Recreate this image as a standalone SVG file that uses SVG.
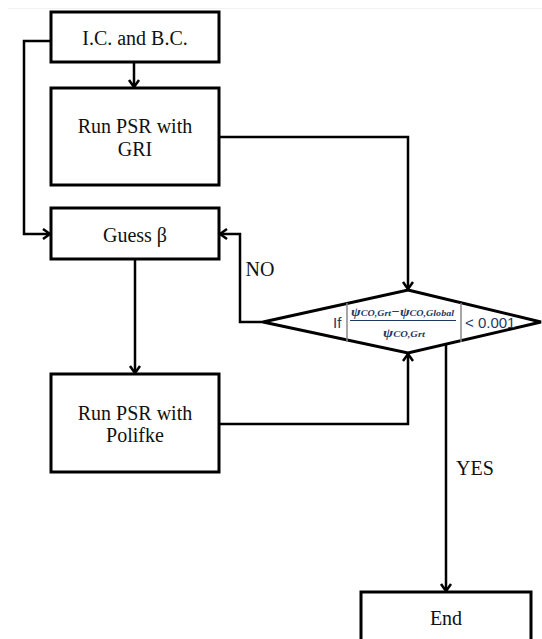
<svg xmlns="http://www.w3.org/2000/svg" width="542" height="639" viewBox="0 0 542 639">
<style>
.box{fill:#fff;stroke:#000;stroke-width:3}
.ln{fill:none;stroke:#000;stroke-width:2.5}
.t{font-family:"Liberation Serif","Times New Roman",serif;font-size:20px;fill:#111;text-anchor:middle}
.f{font-family:"Liberation Sans",Arial,sans-serif;fill:#1f3864}
.m{font-family:"Liberation Serif",serif;font-style:italic;fill:#1f3864}
</style>
<defs>
<marker id="ah" markerUnits="userSpaceOnUse" markerWidth="14" markerHeight="14" refX="9" refY="6" orient="auto">
<path d="M2,1 L9,6 L2,11" fill="none" stroke="#000" stroke-width="2.5"/>
</marker>
</defs>
<rect width="542" height="639" fill="#fff"/>
<line x1="8" y1="8.5" x2="542" y2="8.5" stroke="#f2f2f2" stroke-width="1"/>
<g id="connectors">
<path class="ln" d="M134,63 L134,87" marker-end="url(#ah)"/>
<path class="ln" d="M51,41 L24,41 L24,234 L50,234" marker-end="url(#ah)"/>
<path class="ln" d="M219,137 L408,137 L408,289" marker-end="url(#ah)"/>
<path class="ln" d="M135,259 L135,373" marker-end="url(#ah)"/>
<path class="ln" d="M219,424 L408,424 L408,354" marker-end="url(#ah)"/>
<path class="ln" d="M263,322 L240,322 L240,234 L220,234" marker-end="url(#ah)"/>
<path class="ln" d="M446,344 L446,591" marker-end="url(#ah)"/>
<text class="t" x="260" y="276">NO</text>
<text class="t" x="475" y="475">YES</text>
</g>
<g id="ic">
<rect class="box" x="51" y="12" width="168" height="50"/>
<text class="t" x="135" y="45">I.C. and B.C.</text>
</g>
<g id="gri">
<rect class="box" x="51" y="88" width="168" height="97"/>
<text class="t" x="135" y="133">Run PSR with</text>
<text class="t" x="135" y="156">GRI</text>
</g>
<g id="guess">
<rect class="box" x="51" y="208" width="168" height="51"/>
<text class="t" x="135" y="242">Guess β</text>
</g>
<g id="polifke">
<rect class="box" x="51" y="374" width="168" height="98"/>
<text class="t" x="135" y="420">Run PSR with</text>
<text class="t" x="135" y="442">Polifke</text>
</g>
<g id="decision">
<polygon class="box" points="408,290 541,322 408,353 263,322"/>
<text class="f" x="333" y="328" font-size="15" fill="#222">If</text>
<line x1="347" y1="303" x2="347" y2="342" stroke="#888" stroke-width="1.5"/>
<line x1="461" y1="303" x2="461" y2="342" stroke="#888" stroke-width="1.5"/>
<text class="m" x="351" y="316" font-size="13" font-weight="bold" textLength="103" lengthAdjust="spacingAndGlyphs">ψ<tspan font-size="9">CO,Grt</tspan>−ψ<tspan font-size="9">CO,Global</tspan></text>
<line x1="350" y1="320.5" x2="456" y2="320.5" stroke="#1f3864" stroke-width="1.2"/>
<text class="m" x="383" y="337" font-size="13" font-weight="bold" textLength="42" lengthAdjust="spacingAndGlyphs">ψ<tspan font-size="9">CO,Grt</tspan></text>
<text class="f" x="465" y="328" font-size="15">&lt; 0.001</text>
</g>
<g id="end">
<rect class="box" x="361" y="592" width="170" height="60"/>
<text class="t" x="446" y="625">End</text>
</g>
</svg>
